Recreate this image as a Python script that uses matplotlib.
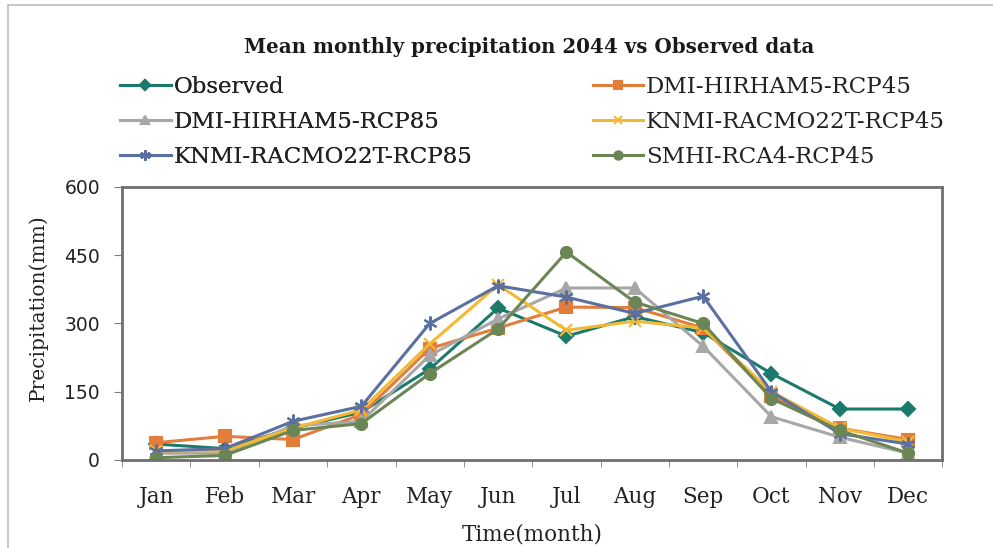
import matplotlib

matplotlib.use("Agg")
import matplotlib.pyplot as plt  # noqa: E402
from matplotlib.patches import Rectangle  # noqa: E402

months = ["Jan", "Feb", "Mar", "Apr", "May", "Jun",
          "Jul", "Aug", "Sep", "Oct", "Nov", "Dec"]

observed = [35, 25, 70, 105, 200, 334, 272, 315, 280, 190, 112, 112]
dmi_45 = [38, 52, 45, 100, 245, 290, 336, 335, 290, 140, 70, 45]
dmi_85 = [15, 15, 75, 85, 230, 310, 378, 378, 250, 95, 50, 15]
knmi_45 = [20, 20, 70, 110, 255, 385, 285, 305, 290, 150, 70, 40]
knmi_85 = [20, 25, 85, 118, 300, 383, 358, 322, 360, 150, 58, 35]
smhi_45 = [5, 10, 65, 80, 190, 288, 457, 347, 300, 135, 65, 15]

series = [
    ("Observed", observed, "#1b7a6c", "D", 7),
    ("DMI-HIRHAM5-RCP45", dmi_45, "#e27d3c", "s", 8),
    ("DMI-HIRHAM5-RCP85", dmi_85, "#a7a7a9", "^", 8),
    ("KNMI-RACMO22T-RCP45", knmi_45, "#f2b935", "x", 8),
    ("KNMI-RACMO22T-RCP85", knmi_85, "#5a70a3", (6, 2, 0), 10),
    ("SMHI-RCA4-RCP45", smhi_45, "#6b8655", "o", 8),
]

SERIF = ["DejaVu Serif"]

fig = plt.figure(figsize=(9.93, 5.48), dpi=100)
fig.patches.append(Rectangle((0.008, -0.01), 1.1, 1.0, transform=fig.transFigure,
                             fill=False, edgecolor="#bdbdbd", lw=1.2))
ax = fig.add_axes([0.123, 0.1606, 0.826, 0.4982])

x = range(len(months))
handles = []
for name, vals, color, marker, ms in series:
    h, = ax.plot(x, vals, color=color, lw=2.2, marker=marker, markersize=ms,
                 markeredgecolor=color, markeredgewidth=1.5, label=name)
    handles.append(h)

ax.set_xlim(-0.5, 11.5)
ax.set_ylim(0, 600)
ax.set_yticks([0, 150, 300, 450, 600])
ax.set_xticks(list(x))
ax.set_xticklabels(months, fontfamily=SERIF, fontsize=15.5)
ax.set_xticks([i - 0.5 for i in range(13)], minor=True)
ax.tick_params(axis="x", which="major", length=0, pad=19, labelcolor="#222222")
ax.tick_params(axis="x", which="minor", length=5, color="#7f7f7f")
ax.tick_params(axis="y", length=6, color="#7f7f7f", labelsize=13.5, pad=10,
               labelcolor="#222222")
for sp in ax.spines.values():
    sp.set_color("#6f6f6f")
    sp.set_linewidth(2)

ax.set_xlabel("Time(month)", fontfamily=SERIF, fontsize=15.5, labelpad=11,
              color="#222222")
ax.set_ylabel("Precipitation(mm)", fontfamily=SERIF, fontsize=14.5,
              color="#222222")
ax.yaxis.set_label_coords(-0.091, 0.557)

fig.text(0.533, 0.914, "Mean monthly precipitation 2044 vs Observed data",
         ha="center", va="center", fontfamily=SERIF, fontsize=14.3,
         fontweight="bold", color="#1a1a1a")

leg_kw = dict(frameon=False, prop={"family": SERIF, "size": 16.5},
              handlelength=2.2, handletextpad=0.13, labelspacing=0.57,
              borderaxespad=0, borderpad=0, labelcolor="#222222",
              markerscale=0.75)
left = fig.legend([handles[0], handles[2], handles[4]],
                  [series[0][0], series[2][0], series[4][0]],
                  loc="upper left", bbox_to_anchor=(0.121, 0.862), **leg_kw)
fig.add_artist(left)
fig.legend([handles[1], handles[3], handles[5]],
           [series[1][0], series[3][0], series[5][0]],
           loc="upper left", bbox_to_anchor=(0.597, 0.862), **leg_kw)

fig.savefig("out.png", dpi=100)
